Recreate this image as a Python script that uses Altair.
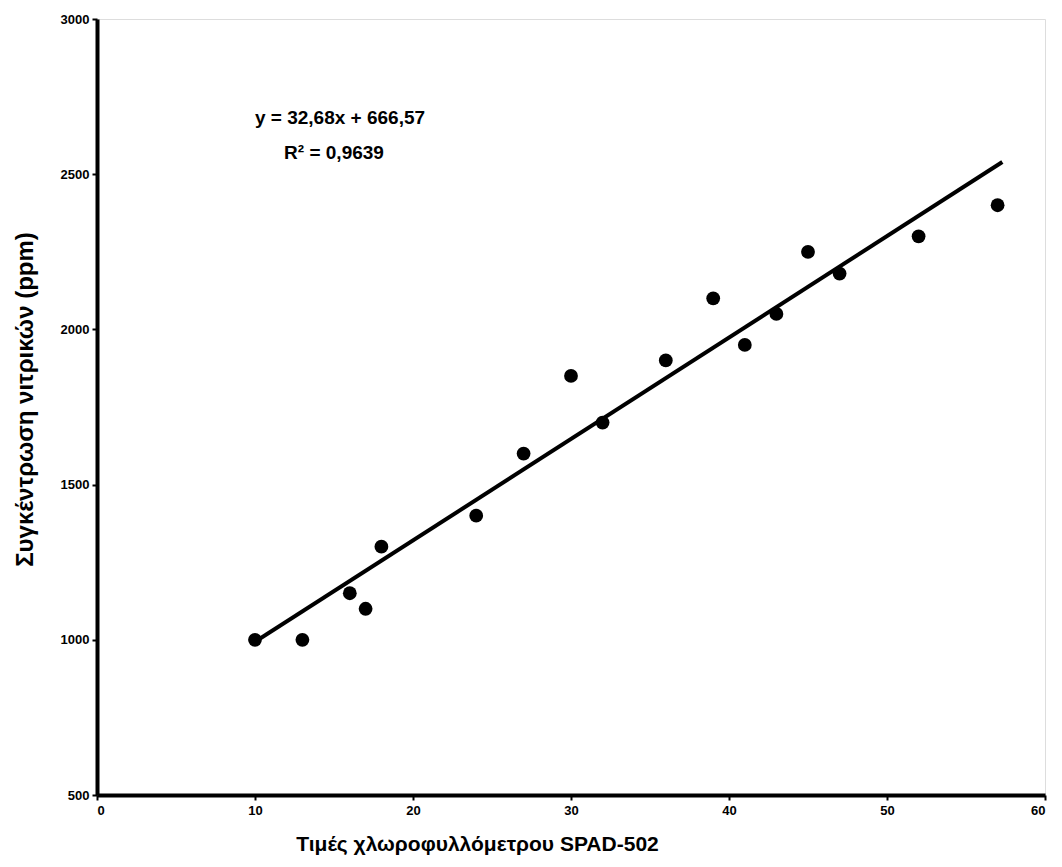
import altair as alt
import pandas as pd

# Data
spad = [10, 13, 16, 17, 18, 24, 27, 30, 32, 36, 39, 41, 43, 45, 47, 52, 57]
nitrate = [1000, 1000, 1150, 1100, 1300, 1400, 1600, 1850, 1700, 1900, 2100, 1950, 2050, 2250, 2180, 2300, 2400]

slope = 32.68
intercept = 666.57
line_x = [10, 57.3]
line_y = [slope * v + intercept for v in line_x]

eq_lines = ["y = 32,68x + 666,57", "R² = 0,9639"]

x_ticks = [0, 10, 20, 30, 40, 50, 60]
y_ticks = [500, 1000, 1500, 2000, 2500, 3000]

pts = pd.DataFrame({"x": spad, "y": nitrate})
ln = pd.DataFrame({"x": line_x, "y": line_y})

FONT = "Liberation Sans"

xscale = alt.Scale(domain=[0, 60], nice=False, zero=False)
yscale = alt.Scale(domain=[500, 3000], nice=False, zero=False)

xaxis = alt.Axis(
    values=x_ticks, format="d",
    title="Τιμές χλωροφυλλόμετρου SPAD-502",
    titleFont=FONT, titleFontSize=21, titleFontWeight=700, titleColor="black",
    titleX=380, titleY=38, titleAnchor="middle",
    labelFont=FONT, labelFontSize=13, labelFontWeight=700, labelColor="black",
    labelPadding=4,
    domainColor="black", domainWidth=4,
    tickColor="black", tickSize=5, tickWidth=2,
    grid=False,
)
yaxis = alt.Axis(
    values=y_ticks, format="d",
    title="Συγκέντρωση νιτρικών (ppm)",
    titleFont=FONT, titleFontSize=24, titleFontWeight=700, titleColor="black",
    titleX=-60, titleY=380, titleAngle=-90, titleAnchor="middle",
    labelFont=FONT, labelFontSize=13, labelFontWeight=700, labelColor="black",
    labelPadding=3,
    domainColor="black", domainWidth=4,
    tickColor="black", tickSize=5, tickWidth=2,
    grid=False,
)

points = alt.Chart(pts).mark_point(filled=True, color="black", size=190, opacity=1).encode(
    x=alt.X("x:Q", scale=xscale, axis=xaxis),
    y=alt.Y("y:Q", scale=yscale, axis=yaxis),
)

trend = alt.Chart(ln).mark_line(color="black", strokeWidth=4).encode(
    x=alt.X("x:Q", scale=xscale),
    y=alt.Y("y:Q", scale=yscale),
)

eq1 = alt.Chart(pd.DataFrame({"t": [eq_lines[0]]})).mark_text(
    font=FONT, fontSize=19, fontWeight=700, color="black", align="center", baseline="middle"
).encode(text="t:N", x=alt.value(243), y=alt.value(99))

eq2 = alt.Chart(pd.DataFrame({"t": [eq_lines[1]]})).mark_text(
    font=FONT, fontSize=19, fontWeight=700, color="black", align="center", baseline="middle"
).encode(text="t:N", x=alt.value(237), y=alt.value(134))

chart = alt.layer(trend, points, eq1, eq2).properties(
    width=948, height=776,
    autosize=alt.AutoSizeParams(type="none"),
    padding={"left": 89, "top": 11, "right": 8, "bottom": 60},
).configure_view(stroke="black", strokeWidth=3).configure(background="white")

chart.save("out.html", embed_options={"renderer": "svg", "actions": False})
